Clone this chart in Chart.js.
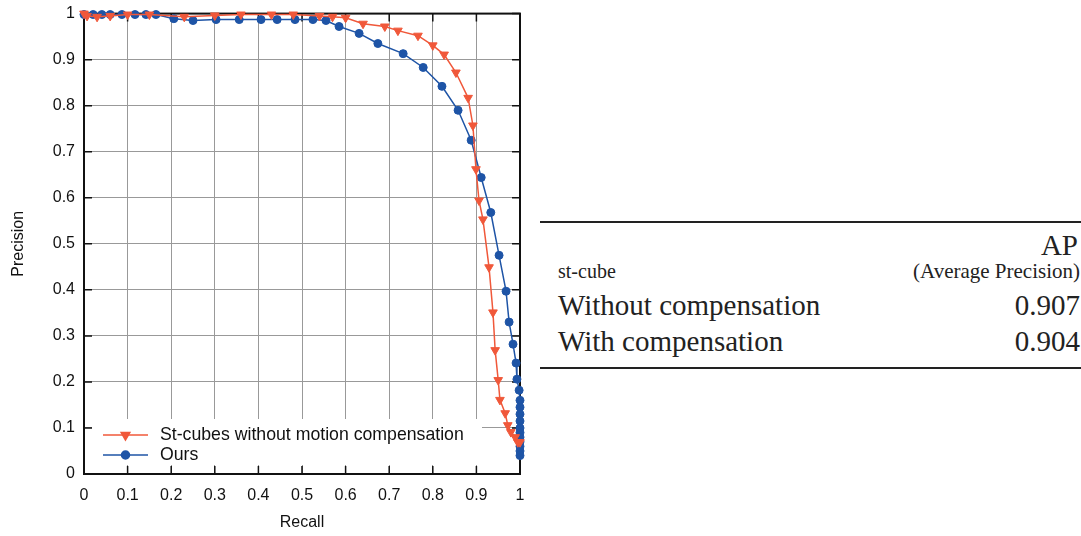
<!DOCTYPE html>
<html>
<head>
<meta charset="utf-8">
<script src="https://cdn.jsdelivr.net/npm/chart.js@4"></script>
<style>
  body { margin: 0; background: #fff; width: 1081px; height: 536px; position: relative; overflow: hidden; }
  #wrap { position: absolute; left: 0; top: -5px; width: 540px; height: 541px; }
  .tbl { position: absolute; left: 540px; top: 220px; width: 541px; font-family: "Liberation Serif", serif; color: #222; }
  .rule { position: absolute; left: 0; width: 541px; height: 2px; background: #222; }
  .t { position: absolute; white-space: nowrap; line-height: 1; }
</style>
</head>
<body>
<div id="wrap"><canvas id="myChart"></canvas></div>
<div class="tbl">
  <div class="rule" style="top:1px"></div>
  <div class="t" style="right:3px; top:11px; font-size:29px;">AP</div>
  <div class="t" style="left:18px; top:41px; font-size:20px;">st-cube</div>
  <div class="t" style="right:1px; top:41px; font-size:21px;">(Average Precision)</div>
  <div class="t" style="left:18px; top:71px; font-size:29px;">Without compensation</div>
  <div class="t" style="right:1px; top:71px; font-size:29px;">0.907</div>
  <div class="t" style="left:18px; top:107px; font-size:29px;">With compensation</div>
  <div class="t" style="right:1px; top:107px; font-size:29px;">0.904</div>
  <div class="rule" style="top:147px"></div>
</div>
<script>
'use strict'

// data
const seriesNames = ['St-cubes without motion compensation', 'Ours'];

const redRecall = [0, 0.007, 0.03, 0.06, 0.1, 0.15, 0.23, 0.30, 0.36, 0.43, 0.48, 0.54, 0.57, 0.60, 0.64, 0.69, 0.72, 0.766, 0.80, 0.826, 0.853, 0.881, 0.892, 0.899, 0.906, 0.915, 0.929, 0.938, 0.943, 0.950, 0.954, 0.966, 0.972, 0.979, 0.989, 0.995, 1.0];
const redPrecision = [1, 0.995, 0.993, 0.995, 0.998, 0.998, 0.993, 0.996, 0.998, 0.998, 0.998, 0.995, 0.993, 0.991, 0.978, 0.972, 0.963, 0.952, 0.931, 0.911, 0.872, 0.817, 0.757, 0.662, 0.594, 0.553, 0.449, 0.351, 0.269, 0.204, 0.161, 0.132, 0.106, 0.091, 0.080, 0.069, 0.069];

const blueRecall = [0, 0.021, 0.041, 0.060, 0.087, 0.117, 0.142, 0.165, 0.206, 0.250, 0.303, 0.356, 0.406, 0.443, 0.484, 0.525, 0.555, 0.585, 0.631, 0.674, 0.732, 0.778, 0.821, 0.858, 0.888, 0.911, 0.933, 0.952, 0.968, 0.975, 0.984, 0.991, 0.993, 0.998, 1, 1, 1, 1, 1, 1, 1, 1, 1, 1, 1];
const bluePrecision = [0.998, 0.998, 0.998, 0.998, 0.998, 0.998, 0.998, 0.998, 0.989, 0.985, 0.987, 0.987, 0.987, 0.987, 0.987, 0.987, 0.985, 0.972, 0.957, 0.935, 0.913, 0.883, 0.842, 0.790, 0.725, 0.644, 0.568, 0.475, 0.397, 0.330, 0.282, 0.241, 0.206, 0.182, 0.16, 0.145, 0.13, 0.115, 0.10, 0.09, 0.08, 0.07, 0.06, 0.05, 0.04];

const tickValues = [0, 0.1, 0.2, 0.3, 0.4, 0.5, 0.6, 0.7, 0.8, 0.9, 1];
const tickLabels = ['0', '0.1', '0.2', '0.3', '0.4', '0.5', '0.6', '0.7', '0.8', '0.9', '1'];

const red = 'rgb(240, 88, 58)';
const blue = 'rgb(30, 84, 166)';
const sans = '"Liberation Sans", Arial, sans-serif';

function toPoints(xs, ys) {
    return xs.map((x, i) => ({ x: x, y: ys[i] }));
}

// frame, inner tick marks and legend
const framePlugin = {
    id: 'frame',
    beforeDatasetsDraw(chart) {
        const c = chart.ctx, a = chart.chartArea;
        const sx = chart.scales.x, sy = chart.scales.y;
        c.save();
        c.strokeStyle = '#111';
        c.lineWidth = 1.5;
        tickValues.forEach(v => {
            const px = sx.getPixelForValue(v);
            const py = sy.getPixelForValue(v);
            c.beginPath();
            c.moveTo(px, a.bottom); c.lineTo(px, a.bottom - 8);
            c.moveTo(px, a.top); c.lineTo(px, a.top + 8);
            c.moveTo(a.left, py); c.lineTo(a.left + 8, py);
            c.moveTo(a.right, py); c.lineTo(a.right - 8, py);
            c.stroke();
        });
        c.lineWidth = 2;
        c.strokeRect(a.left, a.top, a.right - a.left, a.bottom - a.top);
        // legend background
        c.fillStyle = '#fff';
        c.fillRect(a.left + 8, a.bottom - 55, 390, 46);
        c.restore();
    },
    afterDatasetsDraw(chart) {
        const c = chart.ctx, a = chart.chartArea;
        c.save();
        c.font = '17.7px ' + sans;
        c.textBaseline = 'middle';
        chart.data.datasets.forEach((ds, i) => {
            const y = a.bottom - 39 + i * 20;
            const x0 = a.left + 19, x1 = a.left + 64;
            c.strokeStyle = ds.borderColor;
            c.fillStyle = ds.borderColor;
            c.lineWidth = 1.5;
            c.beginPath(); c.moveTo(x0, y); c.lineTo(x1, y); c.stroke();
            Chart.helpers.drawPoint(c, {
                pointStyle: ds.pointStyle, rotation: ds.rotation || 0,
                radius: ds.pointRadius, borderWidth: 1
            }, (x0 + x1) / 2, y);
            c.fillStyle = '#111';
            c.fillText(ds.label, a.left + 76, y);
        });
        c.restore();
    }
};

const ctx = document.getElementById('myChart').getContext('2d');
const myChart = new Chart(ctx, {
    type: 'line',
    data: {
        datasets: [{
            label: seriesNames[0],
            data: toPoints(redRecall, redPrecision),
            borderColor: red,
            backgroundColor: red,
            borderWidth: 1.5,
            pointStyle: 'triangle',
            rotation: 180,
            pointRadius: 5,
            pointBorderWidth: 1,
            clip: 10
        }, {
            label: seriesNames[1],
            data: toPoints(blueRecall, bluePrecision),
            borderColor: blue,
            backgroundColor: blue,
            borderWidth: 1.5,
            pointStyle: 'circle',
            pointRadius: 4,
            pointBorderWidth: 1,
            clip: 10
        }]
    },
    options: {
        responsive: true,
        maintainAspectRatio: false,
        animation: false,
        layout: { padding: { top: 0, right: 20, left: 5, bottom: 0 } },
        plugins: { legend: { display: false }, tooltip: { enabled: false } },
        scales: {
            x: {
                type: 'linear', min: 0, max: 1,
                afterBuildTicks: s => { s.ticks = tickValues.map(v => ({ value: v })); },
                afterFit: s => { s.height = 62; },
                grid: { color: '#999', lineWidth: 1, tickLength: 0, drawTicks: false },
                border: { display: false },
                ticks: { color: '#111', padding: 12, maxRotation: 0,
                    callback: (v, i) => tickLabels[i],
                    font: { family: sans, size: 16 } },
                title: { display: true, text: 'Recall', color: '#111', padding: { top: 10 },
                    font: { family: sans, size: 16 } }
            },
            y: {
                type: 'linear', min: 0, max: 1,
                afterBuildTicks: s => { s.ticks = tickValues.map(v => ({ value: v })); },
                afterFit: s => { s.width = 79; },
                grid: { color: '#999', lineWidth: 1, tickLength: 0, drawTicks: false },
                border: { display: false },
                ticks: { color: '#111', padding: 9,
                    callback: (v, i) => tickLabels[i],
                    font: { family: sans, size: 16 } },
                title: { display: true, text: 'Precision', color: '#111', padding: { bottom: 8 },
                    font: { family: sans, size: 16 } }
            }
        }
    },
    plugins: [framePlugin]
});
</script>
</body>
</html>
